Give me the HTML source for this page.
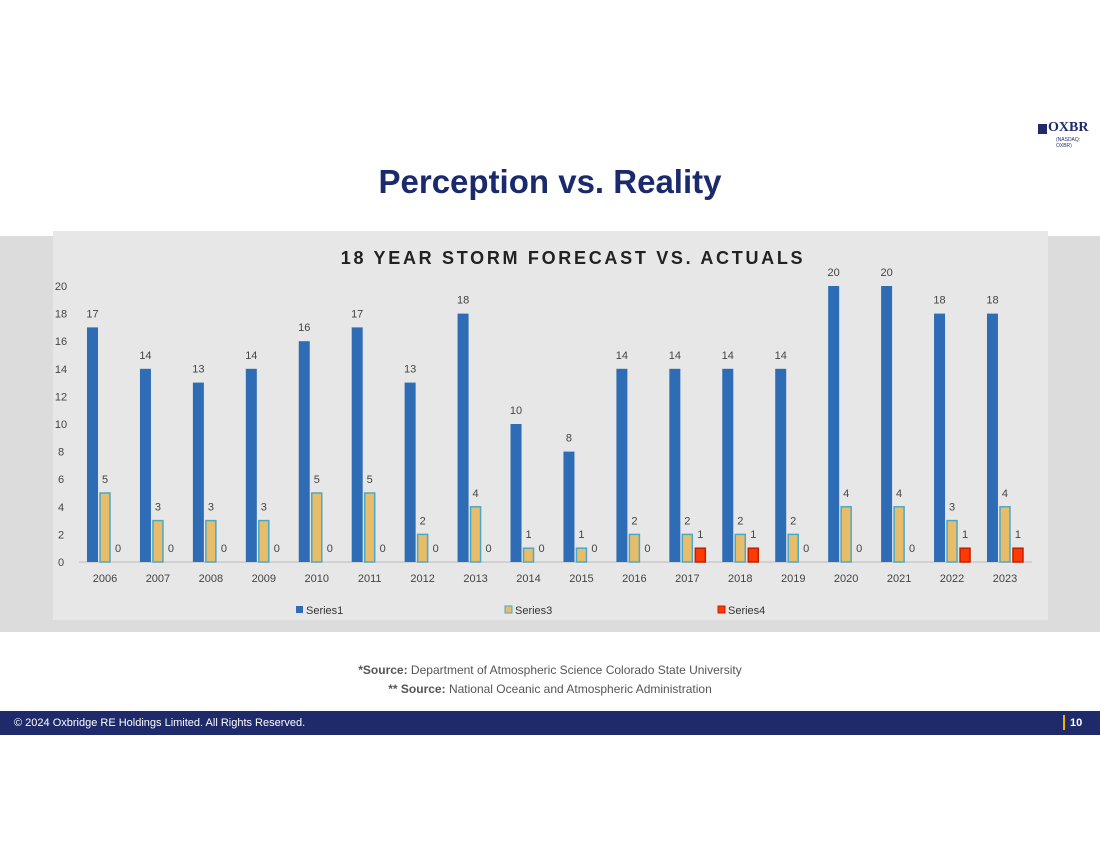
<!DOCTYPE html>
<html><head><meta charset="utf-8"><style>
body{margin:0;width:1100px;height:844px;background:#fff;position:relative;overflow:hidden;font-family:"Liberation Sans",sans-serif}
.abs{position:absolute}
</style></head><body>
<div class="abs" style="left:1038px;top:122px;width:52px;height:26px">
 <div style="position:absolute;left:0;top:2px;width:9px;height:10px;background:#1f2a6b"></div>
 <div style="position:absolute;left:10px;top:-2px;font:bold 14px 'Liberation Serif',serif;color:#1f2a6b">OXBR</div>
 <div style="position:absolute;left:18px;top:15px;font:5px 'Liberation Sans',sans-serif;color:#1f2a6b">(NASDAQ: OXBR)</div>
</div>
<div class="abs" style="left:0;width:1100px;top:163px;text-align:center;font-weight:bold;font-size:33px;color:#1a2a6c">Perception vs. Reality</div>
<div class="abs" style="left:0;top:236px;width:1100px;height:396px;background:#dcdcdc"></div>
<svg class="abs" style="left:0;top:0" width="1100" height="844">
<rect x="53" y="231" width="995" height="389" fill="#e7e7e7"/>
<text x="573" y="264" text-anchor="middle" font-size="18" font-weight="bold" letter-spacing="2.7" fill="#222">18 YEAR STORM FORECAST VS. ACTUALS</text>
<g id="g"></g>
<g font-size="11" fill="#333">
<rect x="296" y="606" width="7" height="7" fill="#2e6db5"/><text x="306" y="614">Series1</text>
<rect x="505" y="606" width="7" height="7" fill="#e8bd6a" stroke="#4aa8c8"/><text x="515" y="614">Series3</text>
<rect x="718" y="606" width="7" height="7" fill="#ff3a00" stroke="#c02000"/><text x="728" y="614">Series4</text>
</g>
</svg>
<div class="abs" style="left:0;width:1100px;top:663px;text-align:center;font-size:12px;color:#555"><b>*Source:</b> Department of Atmospheric Science Colorado State University</div>
<div class="abs" style="left:0;width:1100px;top:682px;text-align:center;font-size:12px;color:#555"><b>** Source:</b> National Oceanic and Atmospheric Administration</div>
<div class="abs" style="left:0;top:711px;width:1100px;height:24px;background:#1f2a6b;color:#fff;font-size:11px">
 <span style="position:absolute;left:14px;top:6px">© 2024 Oxbridge RE Holdings Limited. All Rights Reserved.</span>
 <span style="position:absolute;left:1063px;top:4px;width:2px;height:15px;background:#f0b400"></span>
 <span style="position:absolute;left:1070px;top:6px;font-weight:bold">10</span>
</div>
<script>
const years=['2006','2007','2008','2009','2010','2011','2012','2013','2014','2015','2016','2017','2018','2019','2020','2021','2022','2023'];
const series1=[17,14,13,14,16,17,13,18,10,8,14,14,14,14,20,20,18,18];
const series3=[5,3,3,3,5,5,2,4,1,1,2,2,2,2,4,4,3,4];
const series4=[0,0,0,0,0,0,0,0,0,0,0,1,1,0,0,0,1,1];
const yTicks=[0,2,4,6,8,10,12,14,16,18,20];
const NS='http://www.w3.org/2000/svg';
const g=document.getElementById('g');
const y=v=>562-v*13.8;
const xc=i=>105+i*52.94;
function mk(t,a,txt){const e=document.createElementNS(NS,t);for(const k in a)e.setAttribute(k,a[k]);if(txt!==undefined)e.textContent=txt;g.appendChild(e);return e;}
yTicks.forEach(v=>{const e=mk('text',{x:61,y:y(v)+4,'text-anchor':'middle','font-size':11,fill:'#444'},v);

});
mk('line',{x1:79,x2:1032,y1:562,y2:562,stroke:'#bbb'});
years.forEach((yr,i)=>{
 const c=xc(i);
 const t=mk('text',{x:c,y:582,'text-anchor':'middle','font-size':11,fill:'#444'},yr);
 
 
 const b1=mk('rect',{x:c-18,y:y(series1[i]),width:11,height:562-y(series1[i]),fill:'#2e6db5'});
 
 
 mk('text',{x:c-12.5,y:y(series1[i])-10,'text-anchor':'middle','font-size':11,fill:'#444'},series1[i]);
 const b3=mk('rect',{x:c-5,y:y(series3[i]),width:10,height:562-y(series3[i]),fill:'#e8bd6a',stroke:'#4aa8c8','stroke-width':1.5});
 
 
 mk('text',{x:c,y:y(series3[i])-10,'text-anchor':'middle','font-size':11,fill:'#444'},series3[i]);
 if(series4[i]>0){const b4=mk('rect',{x:c+8,y:y(series4[i]),width:10,height:562-y(series4[i]),fill:'#ff3a00',stroke:'#c02000','stroke-width':1.5});
 
 }
 mk('text',{x:c+13,y:y(series4[i])-10,'text-anchor':'middle','font-size':11,fill:'#444'},series4[i]);
});
</script>
</body></html>
